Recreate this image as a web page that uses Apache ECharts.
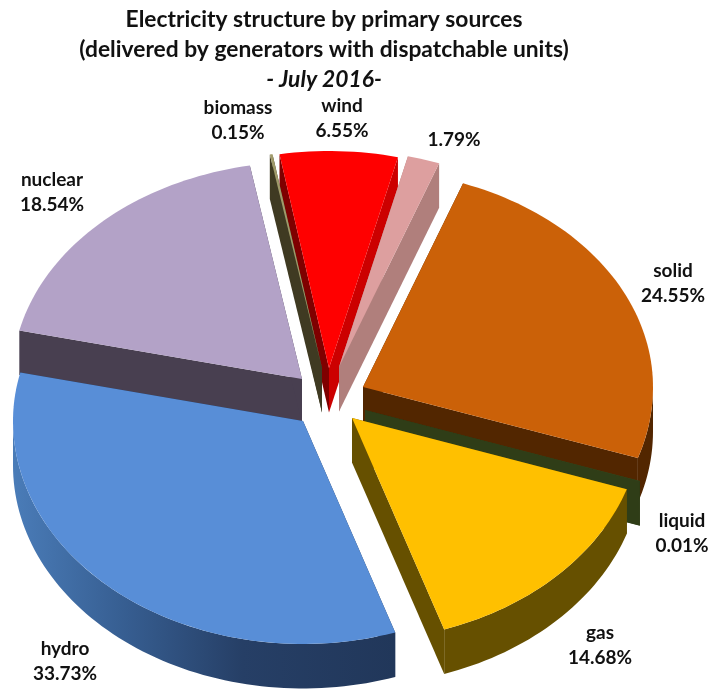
<!DOCTYPE html>
<html>
<head>
<meta charset="utf-8">
<style>html,body{margin:0;padding:0;background:#fff}#c{width:708px;height:689px}</style>
<script src="https://cdn.jsdelivr.net/npm/echarts@6/dist/echarts.min.js"></script>
</head>
<body>
<div id="c"></div>
<script>
// ---- data (clockwise from the start angle) ----
const categories = ['solid', 'liquid', 'gas', 'hydro', 'nuclear', 'biomass', 'wind', ''];
const shares = [24.55, 0.01, 14.68, 33.73, 18.54, 0.15, 6.55, 1.79];
const titleLines = ['Electricity structure by primary sources', '(delivered by generators with dispatchable units)', '- July 2016-'];

// ---- styling / layout ----
const FONT = 'Lato';
const firstAngle = 20.2, rx = 290, ryBack = 217, ryFront = 223, depth = 44.5;
const hub = [330, 395];
const explode = [[33, -8], [35, 15], [22, 23], [-27, 26], [-28, -16], [-8, -27], [-1, -27], [9, -28]];
const topColors = ['#cb6108', '#3d5020', '#ffc000', '#588ed7', '#b3a2c7', '#a09a6a', '#ff0000', '#dd9f9f'];
const startWall = ['#522600', '#2f3d17', '#665000', '#21375a', '#483f50', '#3f3a22', '#7f0000', '#b07f7c'];
const endWall = ['#522600', '#2f3d17', '#665000', '#21375a', '#483f50', '#3f3a22', '#cc0000', '#b07f7c'];
const paintOrder = [4, 6, 7, 5, 0, 1, 2, 3].reduce((m, idx, rank) => (m[idx] = rank, m), {});
const labelPos = [[673, 283], [682, 533], [600, 645], [65, 661], [52, 192], [238, 120], [342, 118], [454, 140]];

const outerWallFill = (i) => i !== 3 ? startWall[i] : new echarts.graphic.LinearGradient(0, 0, 1, 0, [
  { offset: 0, color: '#4a7cb8' }, { offset: 0.3, color: '#365d90' },
  { offset: 0.6, color: '#263f66' }, { offset: 1, color: '#21375a' }
]);

const total = shares.reduce((a, b) => a + b, 0);
function sliceAngles(i) {
  let a = firstAngle;
  for (let k = 0; k < i; k++) a += shares[k] / total * 360;
  return [a, a + shares[i] / total * 360];
}
function rimPoint(c, deg) {
  const r = deg * Math.PI / 180, cs = Math.cos(r);
  return [c[0] + rx * Math.sin(r), c[1] - (cs > 0 ? ryBack : ryFront) * cs];
}
function arcPoints(c, a0, a1) {
  const n = Math.max(2, Math.ceil((a1 - a0) / 1.5)), pts = [];
  for (let k = 0; k <= n; k++) pts.push(rimPoint(c, a0 + (a1 - a0) * k / n));
  return pts;
}
const down = (p) => [p[0], p[1] + depth];

function renderSlice(params, api) {
  const i = params.dataIndex;
  const [a0, a1] = sliceAngles(i);
  const c = [hub[0] + explode[i][0], hub[1] + explode[i][1]];
  const base = paintOrder[i] * 10;
  const children = [];
  const quad = (p, q, fill, z) => children.push({
    type: 'polygon', z2: base + z, shape: { points: [p, q, down(q), down(p)] },
    style: { fill: fill }
  });
  const pStart = rimPoint(c, a0), pEnd = rimPoint(c, a1);
  quad(c, pStart, startWall[i], 1);
  quad(c, pEnd, endWall[i], 2);
  // outer wall: only the part of the rim that faces the viewer
  const norm = (x) => ((x % 360) + 360) % 360;
  let lo = Math.max(norm(a0), 90), hi = Math.min(norm(a0) + (a1 - a0), 270);
  if (hi > lo) {
    const rim = arcPoints(c, lo, hi);
    children.push({
      type: 'polygon', z2: base + 3,
      shape: { points: rim.concat(rim.map(down).reverse()) },
      style: { fill: outerWallFill(i) }
    });
  }
  children.push({
    type: 'polygon', z2: base + 4,
    shape: { points: [c].concat(arcPoints(c, a0, a1)) },
    style: { fill: topColors[i] }
  });
  const name = categories[i];
  const pct = api.value(0).toFixed(2) + '%';
  children.push({
    type: 'text', z2: 500,
    style: {
      text: name ? name + '\n' + pct : pct,
      x: labelPos[i][0], y: labelPos[i][1], align: 'center', verticalAlign: 'middle',
      fontFamily: FONT, fontWeight: 'bold', fontSize: 19, lineHeight: 25, fill: '#111'
    }
  });
  return { type: 'group', children: children };
}

const chart = echarts.init(document.getElementById('c'), null, { renderer: 'canvas' });
chart.setOption({
  animation: false,
  backgroundColor: '#fff',
  title: {
    left: 319, top: 0, textAlign: 'center',
    text: '{a|' + titleLines[0] + '}\n{a|' + titleLines[1] + '}\n{b|' + titleLines[2] + '}',
    textStyle: {
      rich: {
        a: { fontFamily: FONT, fontWeight: 'bold', fontSize: 22.8, lineHeight: 30, color: '#111' },
        b: { fontFamily: FONT, fontWeight: 'bold', fontStyle: 'italic', fontSize: 22.8, lineHeight: 30, color: '#111' }
      }
    }
  },
  series: [{
    type: 'custom',
    coordinateSystem: 'none',
    data: shares,
    renderItem: renderSlice,
    silent: true
  }]
});
</script>
</body>
</html>
